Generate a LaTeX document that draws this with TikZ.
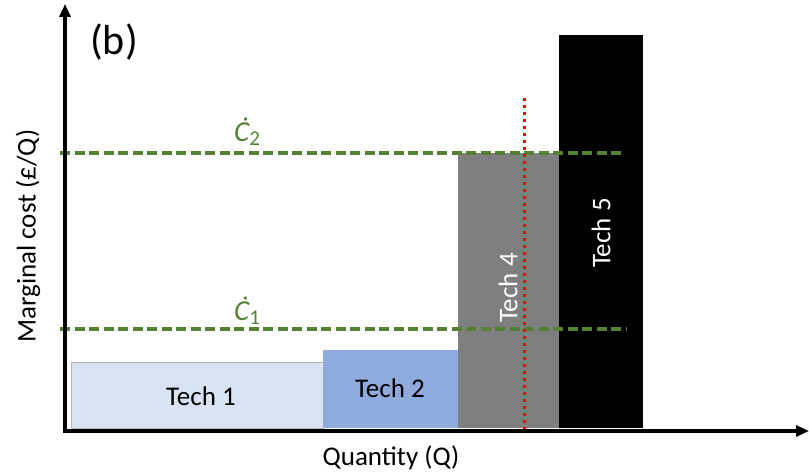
\documentclass[tikz,border=0pt]{standalone}
\usepackage{fontspec}
\setmainfont{Carlito}
\usepackage{amsmath}
\usepackage{tikz}
\usetikzlibrary{arrows.meta}
\definecolor{techone}{HTML}{DAE3F3}
\definecolor{techtwo}{HTML}{8FAADC}
\definecolor{techfour}{HTML}{7F7F7F}
\definecolor{costgreen}{HTML}{548235}
\newcommand{\costsym}[1]{{\itshape\.C}\raisebox{-0.3ex}{\fontsize{21}{22}\selectfont #1}}
\tikzset{
  axis/.style={line width=3.5pt,-{Triangle[length=13pt,width=11pt]}},
  techbar/.style={draw=gray!60,line width=0.6pt},
  costline/.style={costgreen,line width=3.2pt,dash pattern=on 10pt off 4.5pt},
  costlabel/.style={text=costgreen,font=\fontsize{29}{34}\selectfont},
  techlabel/.style={font=\fontsize{27}{30}\selectfont}
}
\begin{document}
\begin{tikzpicture}[x=1pt,y=-1pt]
              \useasboundingbox (0,0) rectangle (809,476);
              % bars
              \fill[techone,techbar] (71,362) rectangle (323,428);
              \fill[techtwo] (323,350) rectangle (458,428);
              \fill[techfour] (458,153) rectangle (559,428);
              \fill[black] (559,35) rectangle (643,428);
              \node[techlabel] (t1) at (201,396) {Tech 1};
              \node[techlabel] (t2) at (390,388) {Tech 2};
              \node[techlabel,white,rotate=90] (t4) at (508,288) {Tech 4};
              \node[techlabel,white,rotate=90] (t5) at (601,233) {Tech 5};
              % cost levels
              \draw[costline] (60,153)--(622,153);
              \draw[costline] (60,329)--(627,329);
              \node[costlabel] (c2) at (247,132) {\costsym{2}};
              \node[costlabel] (c1) at (247,311) {\costsym{1}};
              % demand
              \draw[red,line width=3pt,dash pattern=on 3pt off 4pt] (524,98)--(524,431);
              % axes
              \draw[axis] (63,431)--(809,431);
              \draw[axis] (65,433)--(65,4);
              \node[font=\fontsize{42}{46}\selectfont] (lbl) at (114,42) {(b)};
              \node[techlabel,rotate=90] (ylab) at (28,236) {Marginal cost (£/Q)};
              \node[techlabel] (xlab) at (391,458) {Quantity (Q)};
          \end{tikzpicture}
\end{document}
